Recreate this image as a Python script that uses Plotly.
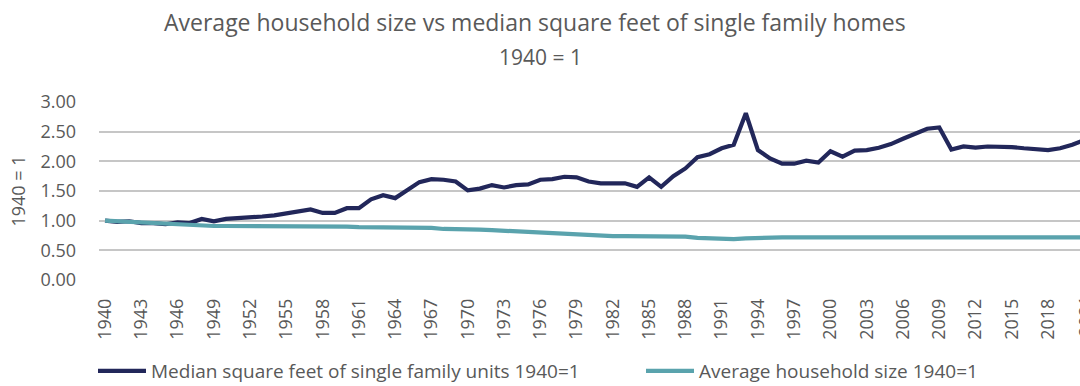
import plotly.graph_objects as go

# Years covered by both series (index 1940 = 1)
years = list(range(1940, 2022))

median_sqft_index = [
    1.00, 0.98, 0.99, 0.96, 0.96, 0.94, 0.97, 0.96, 1.03, 0.99,  # 1940-1949
    1.03, 1.04, 1.06, 1.07, 1.09, 1.12, 1.15, 1.19, 1.13, 1.13,  # 1950-1959
    1.21, 1.21, 1.36, 1.43, 1.38, 1.52, 1.65, 1.70, 1.69, 1.66,  # 1960-1969
    1.51, 1.54, 1.60, 1.56, 1.60, 1.61, 1.69, 1.70, 1.74, 1.73,  # 1970-1979
    1.66, 1.63, 1.63, 1.63, 1.57, 1.73, 1.57, 1.75, 1.88, 2.07,  # 1980-1989
    2.12, 2.22, 2.28, 2.81, 2.19, 2.05, 1.96, 1.96, 2.01, 1.98,  # 1990-1999
    2.17, 2.08, 2.18, 2.19, 2.23, 2.29, 2.38, 2.47, 2.55, 2.57,  # 2000-2009
    2.20, 2.25, 2.23, 2.25, 2.25, 2.24, 2.22, 2.21, 2.19, 2.22,  # 2010-2019
    2.28, 2.36,                                                  # 2020-2021
]

household_size_index = [
    1.00, 0.99, 0.98, 0.97, 0.95, 0.94, 0.93, 0.92, 0.91, 0.91,  # 1940-1949
    0.91, 0.91, 0.91, 0.91, 0.91, 0.91, 0.91, 0.91, 0.91, 0.91,  # 1950-1959
    0.90, 0.89, 0.89, 0.89, 0.89, 0.89, 0.89, 0.88, 0.86, 0.86,  # 1960-1969
    0.86, 0.85, 0.84, 0.83, 0.82, 0.81, 0.80, 0.79, 0.78, 0.77,  # 1970-1979
    0.75, 0.74, 0.74, 0.74, 0.74, 0.73, 0.73, 0.73, 0.73, 0.71,  # 1980-1989
    0.70, 0.69, 0.69, 0.70, 0.71, 0.72, 0.72, 0.72, 0.72, 0.72,  # 1990-1999
    0.72, 0.72, 0.72, 0.72, 0.72, 0.72, 0.72, 0.72, 0.72, 0.72,  # 2000-2009
    0.72, 0.72, 0.72, 0.72, 0.72, 0.72, 0.72, 0.72, 0.72, 0.72,  # 2010-2019
    0.72, 0.72,                                                  # 2020-2021
]

series_names = [
    "Median square feet of single family units 1940=1",
    "Average household size 1940=1",
]

title_text = "Average household size vs median square feet of single family homes"
subtitle_text = "1940 = 1"
y_title = "1940 = 1"

NAVY = "#22275a"
TEAL = "#5aa3ad"
TEXT = "#595959"
GRID = "#c6c6c6"
FONT = "Open Sans, Lato, sans-serif"

W, H = 1080, 386
M_L, M_R, M_T, M_B = 99, 0, 102, 106
x_range = [1939.5, 2020.64]

fig = go.Figure()
fig.add_trace(go.Scatter(
    x=years, y=median_sqft_index, mode="lines", name=series_names[0],
    line=dict(color=NAVY, width=4.2), legend="legend",
))
fig.add_trace(go.Scatter(
    x=years, y=household_size_index, mode="lines", name=series_names[1],
    line=dict(color=TEAL, width=4.2), legend="legend2",
))

# One legend box per series so the two entries sit on a single row
def legend_box(left_px):
    return dict(
        orientation="h", x=left_px / W, xref="container", xanchor="left",
        y=1 - 371 / H, yref="container", yanchor="middle",
        font=dict(size=19, color=TEXT, family=FONT),
        itemwidth=48, bgcolor="rgba(0,0,0,0)",
    )

fig.update_layout(
    width=W, height=H,
    margin=dict(l=M_L, r=M_R, t=M_T, b=M_B, autoexpand=False),
    paper_bgcolor="white", plot_bgcolor="white",
    font=dict(family=FONT, color=TEXT),
    showlegend=True,
    legend=legend_box(93),
    legend2=legend_box(641),
)

# Title and subtitle, centred at fixed pixel positions
plot_w = W - M_L - M_R
plot_h = H - M_T - M_B
for text, cx, cy, size in [(title_text, 535, 22, 23), (subtitle_text, 540, 57, 21)]:
    fig.add_annotation(
        text=text, showarrow=False,
        x=(cx - M_L) / plot_w, xref="paper", xanchor="center",
        y=(H - M_B - cy) / plot_h, yref="paper", yanchor="middle",
        font=dict(size=size, color=TEXT, family=FONT),
    )

fig.update_xaxes(
    range=x_range, tickmode="linear", tick0=1940, dtick=3,
    tickangle=-90, tickfont=dict(size=18, color=TEXT, family=FONT),
    showgrid=False, zeroline=False, showline=False, ticks="",
    ticklabelstandoff=14, automargin=False,
)
fig.update_yaxes(
    range=[0, 3.0], tickmode="linear", tick0=0, dtick=0.5, tickformat=".2f",
    tickfont=dict(size=18, color=TEXT, family=FONT),
    showgrid=True, gridcolor=GRID, gridwidth=1.5,
    zeroline=False, showline=False, ticks="", ticklabelstandoff=22,
    automargin=False,
    title=dict(text=y_title, font=dict(size=18, color=TEXT, family=FONT), standoff=10),
)

# The next category label sits just past the visible edge, partially cut off
next_year = years[-1]
fig.add_annotation(
    text=str(next_year), textangle=-90, showarrow=False,
    x=(next_year - x_range[0]) / (x_range[1] - x_range[0]), xref="paper", xanchor="center",
    y=0, yref="paper", yanchor="top", yshift=-14,
    font=dict(size=18, color=TEXT, family=FONT),
)

fig.write_html("out.html")
